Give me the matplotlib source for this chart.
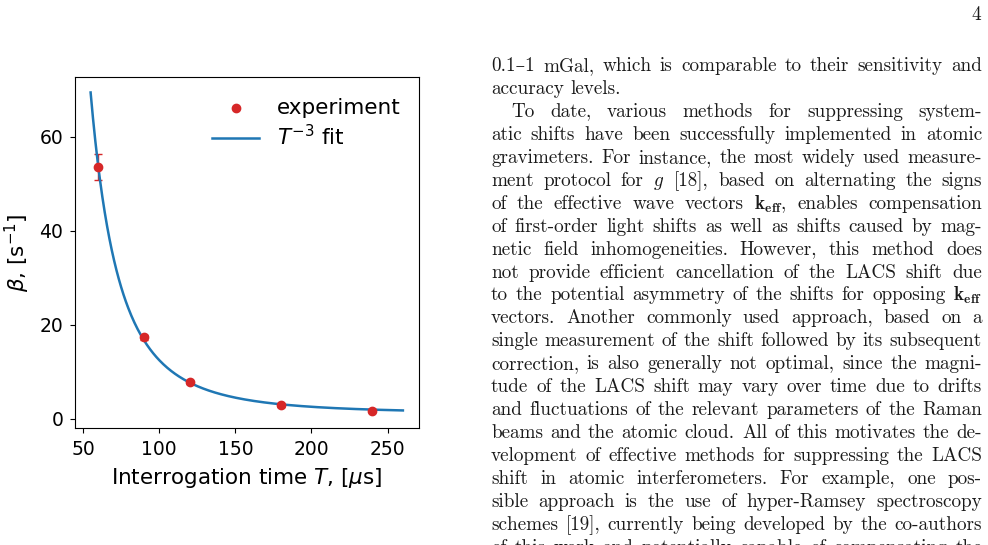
"""Beta vs interrogation time with a T^-3 fit, next to the page's text column."""
import matplotlib
matplotlib.use("Agg")
import matplotlib.pyplot as plt
import numpy as np

T_US = [60, 90, 120, 180, 240]
BETA = [53.6, 17.3, 7.7, 2.8, 1.7]
BETA_ERR = [2.7, 0.5, 0.3, 0.3, 0.3]
T_FIT_RANGE = (55, 260)

X_TICKS = [50, 100, 150, 200, 250]
Y_TICKS = [0, 20, 40, 60]

PAGE_NO = "4"
TEXT_LINES = [
    "0.1–1 mGal, which is comparable to their sensitivity and",
    "accuracy levels.",
    "To date, various methods for suppressing system-",
    "atic shifts have been successfully implemented in atomic",
    "gravimeters. For instance, the most widely used measure-",
    "ment protocol for $g$ [18], based on alternating the signs",
    r"of the effective wave vectors $\mathbf{k}_{\mathbf{eff}}$, enables compensation",
    "of first-order light shifts as well as shifts caused by mag-",
    "netic field inhomogeneities. However, this method does",
    "not provide efficient cancellation of the LACS shift due",
    r"to the potential asymmetry of the shifts for opposing $\mathbf{k}_{\mathbf{eff}}$",
    "vectors. Another commonly used approach, based on a",
    "single measurement of the shift followed by its subsequent",
    "correction, is also generally not optimal, since the magni-",
    "tude of the LACS shift may vary over time due to drifts",
    "and fluctuations of the relevant parameters of the Raman",
    "beams and the atomic cloud. All of this motivates the de-",
    "velopment of effective methods for suppressing the LACS",
    "shift in atomic interferometers. For example, one pos-",
    "sible approach is the use of hyper-Ramsey spectroscopy",
    "schemes [19], currently being developed by the co-authors",
    "of this work and potentially capable of compensating the",
]
RAGGED = {1}      # paragraph ends, not justified
INDENTED = {2}    # paragraph starts

W, H = 988, 545
TXT = dict(family=["cmr10", "DejaVu Serif"], math_fontfamily="cm",
           fontsize=13.8, color="#1a1a1a")


def put_line(fig, r, text, y, x0, x1, justify):
    words = text.split(" ")
    arts = [fig.text(0, 1 - y / H, w, va="baseline", **TXT) for w in words]
    widths = [a.get_window_extent(r).width for a in arts]
    gap = 6.4
    if justify and len(words) > 1:
        gap = (x1 - x0 - sum(widths)) / (len(words) - 1)
    x = x0
    for a, w in zip(arts, widths):
        a.set_x(x / W)
        x += w + gap


def main():
    fig = plt.figure(figsize=(W / 100, H / 100), dpi=100)
    ax = fig.add_axes([75 / W, 1 - 428 / H, (418.5 - 75) / W, (428 - 76.5) / H])

    # T^-3 fit: beta = a / T^3 + c, least squares on the points
    t = np.asarray(T_US, float)
    A = np.column_stack([t ** -3, np.ones_like(t)])
    (a, c), *_ = np.linalg.lstsq(A, np.asarray(BETA), rcond=None)
    tt = np.linspace(*T_FIT_RANGE, 400)

    ax.errorbar(T_US, BETA, yerr=BETA_ERR, fmt="none", ecolor="#d62728",
                elinewidth=1.0, capsize=3, zorder=2)
    pts = ax.scatter(T_US, BETA, s=36, color="#d62728", zorder=3, label="experiment")
    fit, = ax.plot(tt, a / tt ** 3 + c, color="#1f77b4", lw=1.8, zorder=2,
                   label=r"$T^{-3}$ fit")

    ax.set_xticks(X_TICKS)
    ax.set_yticks(Y_TICKS)
    ax.tick_params(labelsize=13.5, pad=5)
    ax.set_xlabel(r"Interrogation time $T$, [$\mu$s]", fontsize=15.5, labelpad=5)
    ax.set_ylabel(r"$\beta$, [s$^{-1}$]", fontsize=15.5, labelpad=5)
    ax.legend(handles=[pts, fit], loc="upper right", frameon=False, fontsize=15.5,
              scatterpoints=1, handlelength=2.2, borderaxespad=0.6,
              labelspacing=0.3, bbox_to_anchor=(1.01, 1.0))

    # text column of the page
    r = fig.canvas.get_renderer()
    fig.text(981 / W, 1 - 20 / H, PAGE_NO, ha="right", va="baseline", **TXT)
    for i, line in enumerate(TEXT_LINES):
        x0 = 491 + (20 if i in INDENTED else 0)
        put_line(fig, r, line, 71 + 22.95 * i, x0, 982, i not in RAGGED)

    fig.savefig("out.png", dpi=100)


if __name__ == "__main__":
    main()
